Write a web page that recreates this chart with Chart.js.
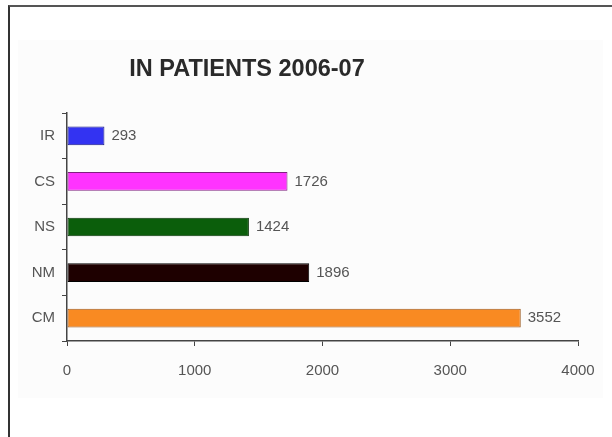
<!DOCTYPE html>
<html>
<head>
<meta charset="utf-8">
<script src="https://cdn.jsdelivr.net/npm/chart.js@4/dist/chart.umd.min.js"></script>
<style>
  html, body { margin: 0; padding: 0; background: #fff; }
  #wrap { position: relative; width: 612px; height: 437px; overflow: hidden; }
  #panel { position: absolute; left: 18px; top: 40px; width: 585px; height: 358px; background: #fcfcfc; }
  #frame { position: absolute; left: 8px; top: 5px; width: 610px; height: 440px;
           border-top: 2px solid #555; border-left: 2px solid #333; box-sizing: border-box; }
  #chart { position: absolute; left: 0; top: 0; }
</style>
</head>
<body>
<div id="wrap">
  <div id="panel"></div>
  <div id="frame"></div>
  <canvas id="chart" width="612" height="437"></canvas>
</div>
<script>
// In-patient counts per department, 2006-07
const chartTitle = 'IN PATIENTS 2006-07';
const departments = ['IR', 'CS', 'NS', 'NM', 'CM'];
const inPatients = [293, 1726, 1424, 1896, 3552];
const xTicks = [0, 1000, 2000, 3000, 4000];

const barColors = ['#3333f2', '#ff33ff', '#0b5e0b', '#1e0000', '#f98a22'];
const barEdges  = ['#1a1a80', '#802080', '#063306', '#000000', '#9a5a20'];

const FONT = '"Liberation Sans", Arial, sans-serif';

// Draws the bold heading above the plot
const headingPlugin = {
  id: 'heading',
  afterDraw(chart) {
    const ctx = chart.ctx;
    ctx.save();
    ctx.font = 'bold 23.5px ' + FONT;
    ctx.fillStyle = '#2a2a2a';
    ctx.textAlign = 'center';
    ctx.textBaseline = 'middle';
    ctx.fillText(chartTitle, chart.chartArea.left + 180, 70);
    ctx.restore();
  }
};

// Writes each bar's value just past its end
const valueLabels = {
  id: 'valueLabels',
  afterDatasetsDraw(chart) {
    const ctx = chart.ctx;
    const meta = chart.getDatasetMeta(0);
    ctx.save();
    ctx.font = '15px ' + FONT;
    ctx.fillStyle = '#555';
    ctx.textAlign = 'left';
    ctx.textBaseline = 'middle';
    meta.data.forEach((bar, i) => {
      ctx.fillText(String(inPatients[i]), bar.x + 7, bar.y);
    });
    ctx.restore();
  }
};

new Chart(document.getElementById('chart'), {
  type: 'bar',
  data: {
    labels: departments,
    datasets: [{
      data: inPatients,
      backgroundColor: barColors,
      borderColor: barEdges,
      borderWidth: 1,
      borderSkipped: false,
      barPercentage: 0.41,
      categoryPercentage: 1
    }]
  },
  options: {
    indexAxis: 'y',
    responsive: false,
    animation: false,
    layout: { padding: { left: 10, top: 113, right: 34, bottom: 50 } },
    plugins: {
      legend: { display: false },
      title: { display: false },
      tooltip: { enabled: false }
    },
    scales: {
      x: {
        min: 0,
        max: 4000,
        afterBuildTicks(scale) { scale.ticks = xTicks.map(v => ({ value: v })); },
        afterFit(scale) { scale.height = 46; },
        grid: { drawOnChartArea: false, drawTicks: true, tickLength: 5, color: '#444', lineWidth: 1 },
        border: { display: true, color: '#444', width: 1.5 },
        ticks: {
          font: { family: FONT, size: 15 }, color: '#555', padding: 16, maxRotation: 0,
          callback: (v) => String(v)
        }
      },
      y: {
        afterFit(scale) { scale.width = 57; },
        grid: { drawOnChartArea: false, drawTicks: true, tickLength: 5, color: '#444', lineWidth: 1, offset: true },
        border: { display: true, color: '#444', width: 1.5 },
        ticks: { font: { family: FONT, size: 15 }, color: '#555', padding: 7 }
      }
    }
  },
  plugins: [headingPlugin, valueLabels]
});
</script>
</body>
</html>
